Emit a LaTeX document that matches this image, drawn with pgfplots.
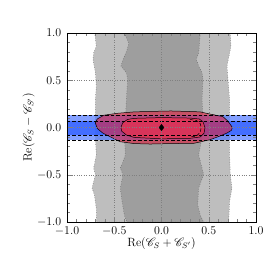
\documentclass[border=0pt]{standalone}
\usepackage{pgfplots}
\pgfplotsset{compat=1.18}
\usepackage{mathrsfs}
\definecolor{lgray}{RGB}{190,190,190}
\definecolor{dgray}{RGB}{158,158,158}
\definecolor{edgegray}{RGB}{90,90,90}
\definecolor{lblue}{RGB}{80,120,255}
\definecolor{dblue}{RGB}{40,90,255}
\definecolor{outred}{RGB}{220,40,70}
\definecolor{inred}{RGB}{230,50,80}
\begin{document}
\begin{tikzpicture}
\useasboundingbox (-67bp,-48bp) rectangle (203bp,222bp);
\begin{axis}[
  scale only axis, width=189bp, height=189bp,
  xmin=-1, xmax=1, ymin=-1, ymax=1,
  xtick={-1,-0.5,0,0.5,1}, ytick={-1,-0.5,0,0.5,1},
  minor tick num=4,
  tick align=inside,
  xtick pos=both, ytick pos=both,
  major tick length=5bp, minor tick length=3bp,
  grid=major,
  major grid style={dotted, gray, line width=0.35pt},
  axis on top,
  tick label style={font=\fontsize{11.5}{13}\selectfont, inner sep=1pt},
  xticklabel style={yshift=-4pt, /pgf/number format/.cd, fixed, fixed zerofill, precision=1},
  yticklabel style={xshift=-4.5pt, /pgf/number format/.cd, fixed, fixed zerofill, precision=1},
  label style={font=\fontsize{11.5}{13}\selectfont},
  xlabel={$\mathrm{Re}(\mathscr{C}_S+\mathscr{C}_{S'})$},
  xlabel style={yshift=3pt},
  ylabel={$\mathrm{Re}(\mathscr{C}_S-\mathscr{C}_{S'})$},
  ylabel style={yshift=-2pt},
]
% light gray band
\addplot[fill=lgray, draw=edgegray, dotted, line width=0.5pt] coordinates {
(-0.707,1.0) (-0.690,0.86) (-0.718,0.79) (-0.725,0.72) (-0.700,0.58) (-0.690,0.44)
(-0.700,0.29) (-0.700,0.10) (-0.700,-0.10) (-0.690,-0.29) (-0.718,-0.43) (-0.700,-0.50)
(-0.735,-0.64) (-0.711,-0.71) (-0.690,-0.86) (-0.690,-1.0)
(0.711,-1.0) (0.721,-0.78) (0.746,-0.64) (0.728,-0.50) (0.721,-0.29) (0.720,-0.10)
(0.720,0.10) (0.721,0.29) (0.704,0.51) (0.693,0.65) (0.707,0.72) (0.735,0.86) (0.728,1.0)
} -- cycle;
% dark gray band
\addplot[fill=dgray, draw=edgegray, dotted, line width=0.5pt] coordinates {
(-0.393,1.0) (-0.347,0.89) (-0.365,0.82) (-0.407,0.72) (-0.429,0.65) (-0.372,0.58)
(-0.358,0.51) (-0.372,0.29) (-0.380,0.10) (-0.390,-0.10) (-0.383,-0.29) (-0.407,-0.36)
(-0.436,-0.43) (-0.407,-0.50) (-0.436,-0.64) (-0.418,-0.78) (-0.393,-0.93) (-0.365,-1.0)
(0.446,-1.0) (0.411,-0.93) (0.383,-0.82) (0.393,-0.64) (0.446,-0.50) (0.429,-0.43)
(0.393,-0.29) (0.430,-0.10) (0.440,0.10) (0.429,0.29) (0.439,0.51) (0.429,0.58)
(0.393,0.65) (0.369,0.72) (0.393,0.79) (0.411,1.0)
} -- cycle;
% blue bands
\addplot[fill=lblue, fill opacity=0.7, draw=none] coordinates {
(-1,-0.137) (1,-0.137) (1,0.133) (-1,0.133)} -- cycle;
\addplot[fill=dblue, fill opacity=0.7, draw=none] coordinates {
(-1,-0.077) (1,-0.077) (1,0.071) (-1,0.071)} -- cycle;
% outer red region
\addplot[fill=outred, fill opacity=0.65, draw=black, line width=0.5pt] coordinates {
(-0.70,0.05) (-0.68,0.09) (-0.61,0.13) (-0.47,0.15) (-0.29,0.165) (-0.12,0.17)
(0.10,0.175) (0.34,0.168) (0.41,0.165) (0.51,0.143) (0.60,0.125) (0.65,0.115)
(0.70,0.07) (0.73,0.03) (0.75,0.0) (0.74,-0.03) (0.69,-0.06) (0.62,-0.09)
(0.51,-0.13) (0.34,-0.168) (0.10,-0.17) (-0.12,-0.175) (-0.29,-0.17) (-0.44,-0.15)
(-0.54,-0.10) (-0.62,-0.06) (-0.68,-0.01)
} -- cycle;
% inner red region
\addplot[fill=inred, fill opacity=0.8, draw=black, line width=0.5pt] coordinates {
(-0.43,0.0) (-0.41,0.05) (-0.36,0.085) (-0.29,0.097) (0,0.105) (0.30,0.10)
(0.40,0.09) (0.44,0.06) (0.46,0.0) (0.45,-0.06) (0.41,-0.10) (0.30,-0.115)
(0,-0.12) (-0.29,-0.105) (-0.37,-0.08) (-0.42,-0.04)
} -- cycle;
% dashed contours
\pgfplotsset{dsh/.style={black, dash pattern=on 3.5pt off 2pt, line width=0.5pt}}
\addplot[dsh] coordinates {(-1,0.133) (1,0.133)};
\addplot[dsh] coordinates {(-1,0.071) (1,0.071)};
\addplot[dsh] coordinates {(-1,-0.077) (1,-0.077)};
\addplot[dsh] coordinates {(-1,-0.137) (1,-0.137)};
\addplot[dsh] coordinates {
(0.30,0.085) (0.37,0.075) (0.41,0.04) (0.42,0.0) (0.41,-0.05) (0.37,-0.09) (0.30,-0.10)};
% best fit point
\addplot[only marks, mark=diamond*, mark size=3.2pt, black] coordinates {(0,0)};
\end{axis}
\end{tikzpicture}
\end{document}
